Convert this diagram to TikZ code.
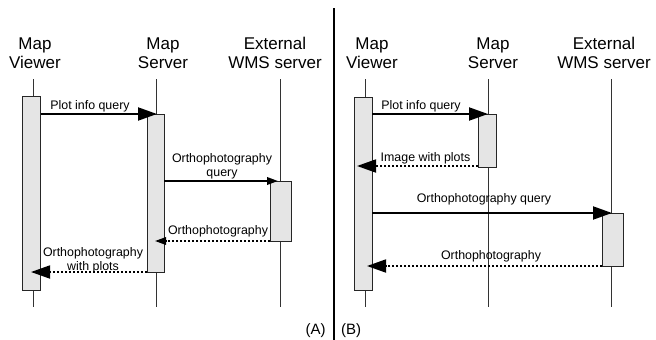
\documentclass[tikz,border=0pt]{standalone}
\usepackage{fontspec}
\setmainfont{Liberation Sans}
\usetikzlibrary{arrows.meta}
\begin{document}
\begin{tikzpicture}[x=1pt,y=-1pt,
  title/.style={align=center,inner sep=0pt,anchor=base,font=\fontsize{17}{19}\selectfont},
  lbl/.style={align=center,inner sep=0pt,anchor=base,font=\fontsize{12.4}{14}\selectfont},
  panel/.style={inner sep=0pt,anchor=base,font=\fontsize{15}{17}\selectfont},
  life/.style={line width=0.9pt,draw=black!80},
  actbox/.style={draw=black!85,line width=0.9pt,fill=black!10,inner sep=0pt},
  bigtip/.style={-{Triangle[length=19pt,width=13pt]}},
  smalltip/.style={-{Triangle[length=11pt,width=7.5pt]}},
  msg/.style={line width=2pt},
  ret/.style={line width=1.8pt,dash pattern=on 2pt off 2pt}]
\useasboundingbox (0,0) rectangle (656,340);

% divider
\coordinate (dtop) at (334,8);
\coordinate (dbot) at (334,340);
\draw[line width=1.8pt] (dtop) -- (dbot);

% ---------- panel A ----------
\node[title] (tva) at (35,68) {Map\\Viewer};
\node[title] (tsa) at (163,68) {Map\\Server};
\node[title] (tea) at (275,68) {External\\WMS server};

\coordinate (lva1) at (33,79);  \coordinate (lva2) at (33,307);
\coordinate (lsa1) at (156.7,79); \coordinate (lsa2) at (156.7,307);
\coordinate (lea1) at (280,79);  \coordinate (lea2) at (280,307);
\draw[life] (lva1) -- (lva2);
\draw[life] (lsa1) -- (lsa2);
\draw[life] (lea1) -- (lea2);

\node[actbox,minimum width=18pt,minimum height=194pt] (bva) at (31.7,193) {};
\node[actbox,minimum width=17pt,minimum height=158pt] (bsa) at (155.5,193) {};
\node[actbox,minimum width=21pt,minimum height=60pt] (bea) at (280.5,211) {};

\coordinate (a1s) at (40.7,114);  \coordinate (a1e) at (157,114);
\coordinate (a2s) at (164,181);   \coordinate (a2e) at (278,181);
\coordinate (a3s) at (270,241);   \coordinate (a3e) at (155,241);
\coordinate (a4s) at (147,272);   \coordinate (a4e) at (31,272);
\draw[msg,bigtip] (a1s) -- (a1e);
\draw[msg,smalltip] (a2s) -- (a2e);
\draw[ret,smalltip] (a3s) -- (a3e);
\draw[ret,bigtip] (a4s) -- (a4e);

\node[lbl] (l1a) at (90,109) {Plot info query};
\node[lbl] (l2a) at (222,176) {Orthophotography\\query};
\node[lbl] (l3a) at (218,234) {Orthophotography};
\node[lbl] (l4a) at (93,270) {Orthophotography\\with plots};
\node[panel] (pa) at (315.5,334) {(A)};

% ---------- panel B ----------
\node[title] (tvb) at (372,68) {Map\\Viewer};
\node[title] (tsb) at (493,68) {Map\\Server};
\node[title] (teb) at (604,68) {External\\WMS server};

\coordinate (lvb1) at (365,79);  \coordinate (lvb2) at (365,307);
\coordinate (lsb1) at (488.3,79); \coordinate (lsb2) at (488.3,307);
\coordinate (leb1) at (611.7,79);  \coordinate (leb2) at (611.7,307);
\draw[life] (lvb1) -- (lvb2);
\draw[life] (lsb1) -- (lsb2);
\draw[life] (leb1) -- (leb2);

\node[actbox,minimum width=18pt,minimum height=193pt] (bvb) at (363.3,193.5) {};
\node[actbox,minimum width=18pt,minimum height=53pt] (bsb) at (487,140.5) {};
\node[actbox,minimum width=21pt,minimum height=53pt] (beb) at (612.5,239.5) {};

\coordinate (b1s) at (372.3,114); \coordinate (b1e) at (488,114);
\coordinate (b2s) at (478,166);   \coordinate (b2e) at (357,166);
\coordinate (b3s) at (372.3,213); \coordinate (b3e) at (612,213);
\coordinate (b4s) at (602,266);   \coordinate (b4e) at (367,266);
\draw[msg,bigtip] (b1s) -- (b1e);
\draw[ret,bigtip] (b2s) -- (b2e);
\draw[msg,bigtip] (b3s) -- (b3e);
\draw[ret,bigtip] (b4s) -- (b4e);

\node[lbl] (l1b) at (421,109) {Plot info query};
\node[lbl] (l2b) at (425.5,161) {Image with plots};
\node[lbl] (l3b) at (484,202) {Orthophotography query};
\node[lbl] (l4b) at (491,259) {Orthophotography};
\node[panel] (pb) at (351,334) {(B)};
\end{tikzpicture}
\end{document}
